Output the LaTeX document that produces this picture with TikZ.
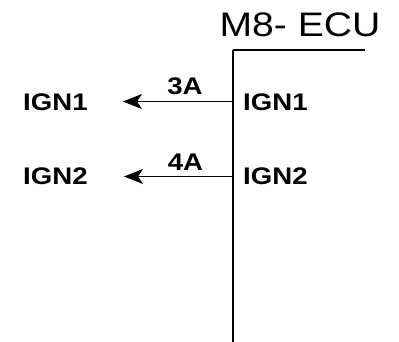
\documentclass[tikz,border=0pt]{standalone}
\usepackage{fontspec}
\setmainfont[FakeStretch=1.15]{Liberation Sans}
\usetikzlibrary{arrows.meta}

\tikzset{
    pinlabel/.style={font=\fontsize{24}{28}\selectfont\bfseries, inner sep=0pt},
    wire/.style={line width=1pt},
}

\begin{document}
\begin{tikzpicture}[x=1pt, y=-1pt, >={Stealth[length=19pt, width=15pt, inset=5pt]}]
    \useasboundingbox (0, 0) rectangle (399, 342);
    % ECU housing
    \node [anchor=base, inner sep=0pt, font=\fontsize{34}{40}\selectfont] (title) at (300, 36.5) {M8- ECU};
    \coordinate (corner) at (233, 50);
    \coordinate (topend) at (365, 50);
    \coordinate (bottom) at (233, 342);
    \draw [line width=1.5pt] (topend) -- (corner);
    \draw [line width=2pt] (corner) -- (bottom);
    % pins
    \coordinate (pin1) at (233, 101.5);
    \coordinate (pin2) at (233, 176.5);
    \coordinate (tip1) at (123, 101.5);
    \coordinate (tip2) at (124, 176.5);
    \node [pinlabel, anchor=base west] (ecuign1) at (243, 110.5) {IGN1};
    \node [pinlabel, anchor=base west] (ecuign2) at (243, 184.5) {IGN2};
    \node [pinlabel, anchor=base west] (ign1) at (23, 110.5) {IGN1};
    \node [pinlabel, anchor=base west] (ign2) at (23, 184.5) {IGN2};
    \draw [wire, ->] (pin1) -- node [pinlabel, anchor=base, xshift=7pt, yshift=6.5pt] (amp1) {3A} (tip1);
    \draw [wire, ->] (pin2) -- node [pinlabel, anchor=base, xshift=7pt, yshift=5.5pt] (amp2) {4A} (tip2);
\end{tikzpicture}
\end{document}
